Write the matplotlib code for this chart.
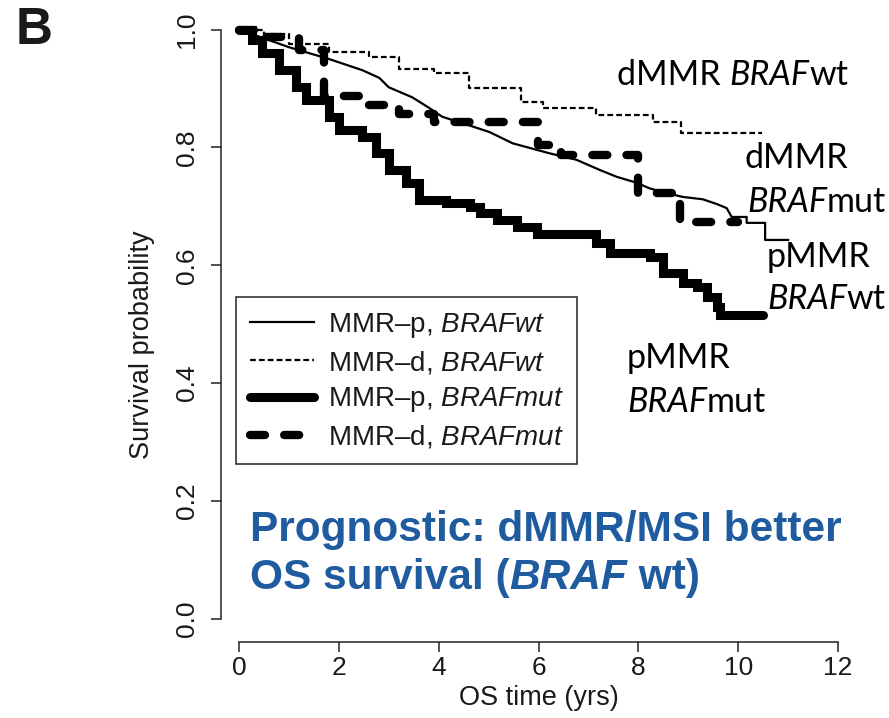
import matplotlib
matplotlib.use("Agg")
import matplotlib.pyplot as plt

plt.rcParams["font.family"] = "Liberation Sans"
plt.rcParams["mathtext.fontset"] = "custom"
plt.rcParams["mathtext.rm"] = "Liberation Sans"
plt.rcParams["mathtext.it"] = "Liberation Sans:italic"

# Kaplan-Meier curves (years, survival)
# pMMR BRAFwt has many small events, so it is traced as a line; the tail steps are explicit
p_wt_time = [0, 0.2, 1.0, 1.8, 2.47, 2.81, 3.0, 3.47, 3.81, 4.07, 4.48, 5.02, 5.48,
             6.22, 6.76, 7.22, 7.57, 7.97, 8.21, 8.49, 8.89, 9.29, 9.57, 9.77, 9.87,
             10.17, 10.17, 10.54, 10.54, 11.0]
p_wt_surv = [1.0, 0.994, 0.970, 0.950, 0.931, 0.918, 0.902, 0.885, 0.867, 0.852, 0.841,
             0.826, 0.807, 0.790, 0.779, 0.762, 0.750, 0.740, 0.731, 0.724, 0.716, 0.712,
             0.704, 0.697, 0.682, 0.682, 0.672, 0.672, 0.643, 0.643]

d_wt_time = [0, 0.5, 1.0, 1.8, 2.6, 3.2, 3.9, 4.6, 5.65, 6.1, 7.15, 8.3, 8.85, 10.48]
d_wt_surv = [1.0, 0.992, 0.975, 0.962, 0.953, 0.933, 0.926, 0.901, 0.877, 0.867, 0.855,
             0.843, 0.824, 0.824]

p_mut_time = [0, 0.26, 0.46, 0.8, 1.14, 1.34, 1.81, 2.0, 2.47, 2.75, 3.01, 3.35, 3.61,
              4.15, 4.62, 4.82, 5.16, 5.56, 5.96, 7.16, 7.43, 8.23, 8.49, 8.89, 9.17,
              9.37, 9.57, 9.63, 10.5]
p_mut_surv = [1.0, 0.982, 0.960, 0.931, 0.902, 0.880, 0.852, 0.830, 0.818, 0.790, 0.762,
              0.740, 0.711, 0.706, 0.699, 0.689, 0.677, 0.665, 0.653, 0.638, 0.621, 0.614,
              0.587, 0.570, 0.563, 0.546, 0.529, 0.516, 0.516]

d_mut_time = [0, 0.5, 1.2, 1.7, 2.5, 3.2, 3.9, 5.98, 6.45, 7.99, 8.83, 10.0]
d_mut_surv = [1.0, 0.987, 0.965, 0.887, 0.872, 0.857, 0.843, 0.804, 0.787, 0.723, 0.673,
              0.673]

legend_labels = [r"MMR–p, $\mathit{BRAFwt}$", r"MMR–d, $\mathit{BRAFwt}$",
                 r"MMR–p, $\mathit{BRAFmut}$", r"MMR–d, $\mathit{BRAFmut}$"]
x_ticks = [0, 2, 4, 6, 8, 10, 12]
y_ticks = [0.0, 0.2, 0.4, 0.6, 0.8, 1.0]

W, H = 889, 718
fig = plt.figure(figsize=(W / 100, H / 100), dpi=100)
ax = fig.add_axes([239 / W, 99 / H, 599 / W, 589.5 / H])


def fx(x):
    return x / W


def fy(y):
    return 1 - y / H


ax.plot(p_wt_time, p_wt_surv, color="black", lw=1.6, clip_on=False,
        label=legend_labels[0])
ax.plot(d_wt_time, d_wt_surv, drawstyle="steps-post", color="black", lw=1.6,
        dashes=(2.6, 1.4), clip_on=False, label=legend_labels[1])
ax.plot(p_mut_time, p_mut_surv, drawstyle="steps-post", color="black", lw=6.5,
        solid_capstyle="round", solid_joinstyle="miter", clip_on=False,
        label=legend_labels[2])
ax.plot(d_mut_time, d_mut_surv, drawstyle="steps-post", color="black", lw=6.0,
        dashes=(1.8, 2.3), dash_capstyle="round", clip_on=False,
        label=legend_labels[3])

ax.set_xlim(0, 12)
ax.set_ylim(0, 1)
ax.set_xticks(x_ticks)
ax.set_yticks(y_ticks)
ax.set_yticklabels([f"{v:.1f}" for v in y_ticks])

for side in ["top", "right"]:
    ax.spines[side].set_visible(False)
ax.spines["left"].set_position(("outward", 13))
ax.spines["bottom"].set_position(("outward", 16.5))
for side in ["left", "bottom"]:
    ax.spines[side].set_linewidth(1.1)
    ax.spines[side].set_color("#222222")
ax.tick_params(axis="both", length=7, width=1.1, color="#222222",
               labelsize=19, labelcolor="#1a1a1a")
ax.tick_params(axis="x", pad=3)
ax.tick_params(axis="y", pad=9, labelrotation=90)
for lbl in ax.get_yticklabels():
    lbl.set_va("center")

ax.set_xlabel("OS time (yrs)", fontsize=19.5, color="#1a1a1a")
ax.xaxis.set_label_coords(0.5, -0.112)
ax.set_ylabel("Survival probability", fontsize=19.5, color="#1a1a1a")
ax.yaxis.set_label_coords(-0.14, 0.466)

leg = ax.legend(loc="upper left", bbox_to_anchor=(fx(236), fy(297)),
                bbox_transform=fig.transFigure, fontsize=20, handlelength=2.3,
                handletextpad=0.5, labelspacing=0.33, borderpad=0.5,
                borderaxespad=0, fancybox=False, framealpha=1)
leg.get_frame().set_edgecolor("#222222")
leg.get_frame().set_linewidth(1.1)
for t in leg.get_texts():
    t.set_color("#1a1a1a")


def rich_text(x, y, parts, **kw):
    # first piece sits at (x, y); the rest follow on the same baseline
    t = fig.text(fx(x), fy(y), parts[0][0], ha="left", va="center", **kw, **parts[0][1])
    for s, st in parts[1:]:
        t = ax.annotate(s, xy=(1, 0), xycoords=t, ha="left", va="bottom",
                        annotation_clip=False, **kw, **st)
    return t


note = dict(family="Lato", fontsize=24.5, color="black")
up = {}
it = {"style": "italic"}
rich_text(617, 75, [("dMMR ", up), ("BRAF", it), ("wt", up)], **note)
rich_text(745, 158, [("dMMR", up)], **note)
rich_text(747, 202, [("BRAF", it), ("mut", up)], **note)
rich_text(767, 257, [("pMMR", up)], **note)
rich_text(767, 299, [("BRAF", it), ("wt", up)], **note)
rich_text(627, 358, [("pMMR", up)], **note)
rich_text(627, 402, [("BRAF", it), ("mut", up)], **note)

blue = dict(fontsize=30.5, color="#1f5b9f", fontweight="bold")
rich_text(250, 530, [("Prognostic: dMMR/MSI better", {})], **blue)
rich_text(250, 578, [("OS survival (", {}), ("BRAF", it), (" wt)", {})], **blue)

fig.text(fx(16), fy(31), "B", fontsize=37, fontweight="bold", color="#1a1a1a",
         ha="left", va="center")

fig.savefig("out.png", dpi=100)
